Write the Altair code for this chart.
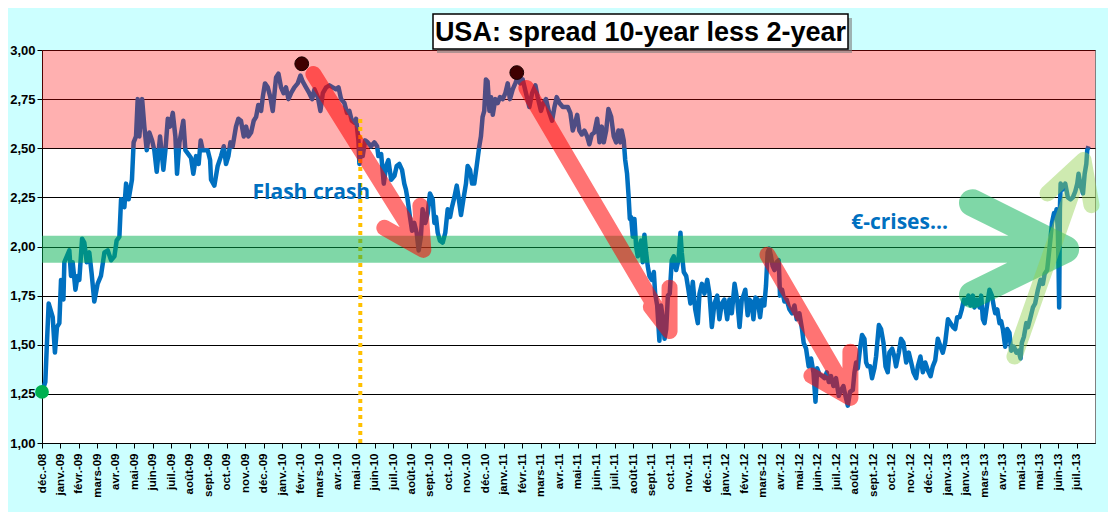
import altair as alt
import pandas as pd

# x position unit = one axis tick step (Excel date axis, ~1 month)
month_labels = [
    "déc.-08", "janv.-09", "févr.-09", "mars-09", "avr.-09", "mai-09", "juin-09",
    "juil.-09", "août-09", "sept.-09", "oct.-09", "nov.-09", "déc.-09", "janv.-10",
    "févr.-10", "mars-10", "avr.-10", "mai-10", "juin-10", "juil.-10", "août-10",
    "sept.-10", "oct.-10", "nov.-10", "déc.-10", "janv.-11", "févr.-11", "mars-11",
    "avr.-11", "mai-11", "juin-11", "juil.-11", "août-11", "sept.-11", "oct.-11",
    "nov.-11", "déc.-11", "janv.-12", "févr.-12", "mars-12", "avr.-12", "mai-12",
    "juin-12", "juil.-12", "août-12", "sept.-12", "oct.-12", "nov.-12", "déc.-12",
    "janv.-13", "janv.-13", "mars-13", "avr.-13", "mai-13", "mai-13", "juin-13",
    "juil.-13",
]
y_ticks = [1.0, 1.25, 1.5, 1.75, 2.0, 2.25, 2.5, 2.75, 3.0]

# spread 10y - 2y, (position, value)
spread_0809 = [
    (0.00, 1.26), (0.18, 1.31), (0.25, 1.47), (0.36, 1.71), (0.58, 1.64), (0.70, 1.46),
    (0.81, 1.59), (0.94, 1.61), (1.03, 1.83), (1.16, 1.73), (1.21, 1.92), (1.48, 1.98),
    (1.57, 1.85), (1.66, 1.92), (1.81, 1.78), (1.93, 1.85), (2.02, 1.83), (2.17, 2.04),
    (2.29, 2.02), (2.42, 1.92), (2.56, 1.97), (2.69, 1.86), (2.83, 1.72), (3.01, 1.81),
    (3.19, 1.85), (3.38, 1.97), (3.56, 1.98), (3.74, 1.93), (3.92, 1.95), (4.04, 2.03),
    (4.19, 2.05), (4.28, 2.24), (4.46, 2.20), (4.55, 2.32), (4.69, 2.24), (4.87, 2.34),
    (4.96, 2.53), (5.09, 2.56), (5.18, 2.75), (5.27, 2.56), (5.42, 2.75), (5.54, 2.61),
    (5.67, 2.49), (5.81, 2.58), (5.96, 2.54), (6.08, 2.49), (6.21, 2.38), (6.39, 2.56),
    (6.57, 2.39), (6.68, 2.49), (6.81, 2.65), (6.93, 2.61), (7.08, 2.68), (7.22, 2.56),
    (7.31, 2.37), (7.44, 2.53), (7.65, 2.64), (7.76, 2.49), (7.92, 2.47), (8.07, 2.45),
    (8.19, 2.37), (8.34, 2.46), (8.48, 2.42), (8.59, 2.54), (8.70, 2.49), (8.97, 2.49),
    (9.10, 2.44), (9.15, 2.34), (9.33, 2.31),
]
spread_0910 = [
    (9.51, 2.41), (9.69, 2.46), (9.84, 2.51), (9.96, 2.42), (10.09, 2.46), (10.20, 2.53),
    (10.32, 2.51), (10.50, 2.61), (10.63, 2.65), (10.77, 2.64), (10.92, 2.56), (11.05, 2.61),
    (11.17, 2.56), (11.32, 2.58), (11.46, 2.64), (11.59, 2.66), (11.71, 2.72), (11.86, 2.69),
    (11.95, 2.76), (12.07, 2.83), (12.22, 2.81), (12.36, 2.76), (12.49, 2.69), (12.67, 2.86),
    (12.80, 2.88), (12.94, 2.81), (13.08, 2.78), (13.21, 2.81), (13.34, 2.75), (13.48, 2.78),
    (13.66, 2.81), (13.84, 2.83), (13.99, 2.87), (14.11, 2.84), (14.29, 2.81), (14.47, 2.78),
    (14.62, 2.75), (14.75, 2.80), (14.93, 2.76), (15.07, 2.69), (15.20, 2.78), (15.38, 2.81),
    (15.56, 2.82), (15.74, 2.81), (15.92, 2.80), (16.05, 2.81), (16.19, 2.75), (16.37, 2.73),
    (16.51, 2.68), (16.64, 2.69), (16.77, 2.64), (16.91, 2.63), (17.00, 2.65), (17.13, 2.54),
    (17.18, 2.42), (17.27, 2.51), (17.36, 2.46), (17.49, 2.54), (17.63, 2.53), (17.81, 2.51),
    (17.99, 2.53), (18.14, 2.51), (18.21, 2.46), (18.36, 2.47), (18.50, 2.32), (18.63, 2.41),
    (18.75, 2.44), (18.90, 2.34), (19.08, 2.36),
]
spread_1011 = [
    (19.20, 2.41), (19.34, 2.42), (19.49, 2.39), (19.61, 2.32), (19.70, 2.29), (19.79, 2.24),
    (19.92, 2.15), (20.03, 2.08), (20.15, 2.12), (20.28, 2.07), (20.39, 1.98), (20.51, 2.05),
    (20.60, 2.19), (20.75, 2.12), (20.88, 2.17), (21.00, 2.27), (21.15, 2.24), (21.24, 2.12),
    (21.33, 2.15), (21.42, 2.07), (21.54, 2.03), (21.69, 2.02), (21.83, 2.07), (21.96, 2.19),
    (22.09, 2.15), (22.19, 2.20), (22.32, 2.25), (22.45, 2.31), (22.55, 2.25), (22.68, 2.16),
    (22.81, 2.24), (22.95, 2.32), (23.04, 2.41), (23.17, 2.39), (23.28, 2.32), (23.40, 2.32),
    (23.53, 2.41), (23.67, 2.51), (23.76, 2.56), (23.85, 2.66), (23.94, 2.69), (24.03, 2.85),
    (24.12, 2.84), (24.22, 2.69), (24.31, 2.76), (24.40, 2.67), (24.54, 2.75), (24.67, 2.73),
    (24.79, 2.76), (24.94, 2.75), (25.08, 2.78), (25.21, 2.83), (25.33, 2.75), (25.48, 2.80),
    (25.62, 2.83), (25.75, 2.86), (25.88, 2.83), (26.02, 2.85), (26.20, 2.78), (26.38, 2.71),
    (26.53, 2.78), (26.71, 2.82), (26.83, 2.76), (27.01, 2.69), (27.14, 2.73), (27.28, 2.75),
    (27.43, 2.69), (27.61, 2.64), (27.74, 2.71), (27.86, 2.76), (28.01, 2.73), (28.19, 2.71),
]
spread_1112 = [
    (28.46, 2.71), (28.60, 2.68), (28.73, 2.59), (28.86, 2.63), (28.97, 2.67), (29.09, 2.59),
    (29.22, 2.57), (29.36, 2.59), (29.51, 2.56), (29.63, 2.52), (29.76, 2.57), (29.90, 2.58),
    (30.05, 2.65), (30.18, 2.53), (30.30, 2.61), (30.41, 2.53), (30.54, 2.59), (30.66, 2.70),
    (30.81, 2.66), (30.95, 2.56), (31.08, 2.53), (31.20, 2.59), (31.31, 2.53), (31.38, 2.59),
    (31.49, 2.54), (31.57, 2.44), (31.67, 2.37), (31.75, 2.26), (31.82, 2.14), (31.89, 2.15),
    (31.98, 2.05), (32.07, 2.14), (32.16, 2.00), (32.25, 1.95), (32.34, 2.00), (32.43, 2.03),
    (32.52, 1.92), (32.61, 2.06), (32.70, 1.97), (32.79, 1.90), (32.88, 1.85), (33.01, 1.83),
    (33.12, 1.87), (33.19, 1.76), (33.30, 1.70), (33.42, 1.52), (33.51, 1.70), (33.60, 1.64),
    (33.70, 1.53), (33.79, 1.58), (33.88, 1.75), (33.98, 1.76), (34.09, 1.93), (34.20, 1.95),
    (34.33, 1.88), (34.45, 1.93), (34.56, 2.07), (34.63, 1.97), (34.74, 1.87), (34.87, 1.85),
    (34.99, 1.78), (35.10, 1.71), (35.23, 1.82), (35.36, 1.68), (35.50, 1.61), (35.59, 1.76),
    (35.72, 1.81), (35.86, 1.76), (36.01, 1.83), (36.13, 1.76), (36.26, 1.59), (36.40, 1.71),
    (36.55, 1.75), (36.67, 1.63), (36.80, 1.71), (36.94, 1.73), (37.09, 1.63), (37.21, 1.73),
    (37.34, 1.66), (37.49, 1.81), (37.63, 1.73), (37.76, 1.59), (37.88, 1.73),
]
spread_12 = [
    (37.97, 1.75), (38.07, 1.78), (38.20, 1.65), (38.29, 1.73), (38.40, 1.72), (38.51, 1.63),
    (38.62, 1.74), (38.74, 1.73), (38.87, 1.64), (38.98, 1.73), (39.10, 1.70), (39.19, 1.80),
    (39.28, 1.97), (39.37, 1.99), (39.46, 1.95), (39.55, 1.90), (39.65, 1.88), (39.77, 1.92),
    (39.88, 1.93), (39.95, 1.75), (40.06, 1.78), (40.19, 1.72), (40.31, 1.73), (40.46, 1.68),
    (40.60, 1.66), (40.73, 1.70), (40.85, 1.63), (41.00, 1.66), (41.14, 1.58), (41.23, 1.51),
    (41.36, 1.48), (41.50, 1.39), (41.63, 1.43), (41.76, 1.36), (41.87, 1.21), (41.96, 1.38),
    (42.08, 1.35), (42.23, 1.34), (42.35, 1.33), (42.48, 1.36), (42.59, 1.31), (42.71, 1.34),
    (42.84, 1.29), (42.98, 1.33), (43.13, 1.24), (43.26, 1.27), (43.38, 1.29), (43.49, 1.24),
    (43.62, 1.19), (43.74, 1.26), (43.89, 1.27), (43.98, 1.36), (44.07, 1.41), (44.16, 1.38),
    (44.28, 1.48), (44.39, 1.55), (44.52, 1.53), (44.61, 1.41), (44.70, 1.39), (44.83, 1.39),
    (44.93, 1.33), (45.06, 1.38), (45.15, 1.44), (45.30, 1.60), (45.42, 1.58), (45.55, 1.51),
    (45.66, 1.39), (45.78, 1.36), (45.87, 1.46), (46.02, 1.48), (46.14, 1.44), (46.23, 1.39),
    (46.38, 1.46), (46.50, 1.53), (46.63, 1.51), (46.78, 1.41), (46.92, 1.46), (47.05, 1.41),
    (47.17, 1.36), (47.32, 1.33),
]
spread_13 = [
    (47.41, 1.39), (47.55, 1.44), (47.68, 1.36), (47.81, 1.41), (47.95, 1.37), (48.10, 1.34),
    (48.22, 1.39), (48.35, 1.42), (48.49, 1.53), (48.64, 1.49), (48.76, 1.46), (48.89, 1.51),
    (49.04, 1.63), (49.18, 1.61), (49.31, 1.59), (49.43, 1.58), (49.54, 1.64), (49.67, 1.64),
    (49.79, 1.68), (49.90, 1.73), (50.03, 1.71), (50.15, 1.75), (50.26, 1.70), (50.39, 1.75),
    (50.48, 1.69), (50.62, 1.73), (50.75, 1.69), (50.84, 1.75), (50.93, 1.63), (51.02, 1.61),
    (51.17, 1.71), (51.29, 1.78), (51.42, 1.75), (51.53, 1.69), (51.60, 1.66), (51.71, 1.68),
    (51.83, 1.61), (51.92, 1.62), (52.01, 1.58), (52.14, 1.49), (52.25, 1.58), (52.37, 1.56),
    (52.46, 1.47), (52.61, 1.49), (52.74, 1.46), (52.86, 1.47), (52.97, 1.43), (53.04, 1.51),
    (53.15, 1.54), (53.28, 1.61), (53.37, 1.59), (53.51, 1.64), (53.64, 1.69), (53.76, 1.71),
    (53.91, 1.78), (54.05, 1.83), (54.18, 1.81), (54.27, 1.86), (54.41, 1.88), (54.49, 1.95),
    (54.60, 2.05), (54.67, 2.12), (54.78, 2.17), (54.85, 2.15), (54.92, 2.19), (54.99, 2.08),
    (55.03, 1.88), (55.06, 1.69), (55.10, 2.19), (55.14, 2.32), (55.26, 2.29), (55.39, 2.32),
    (55.53, 2.25), (55.68, 2.24), (55.80, 2.25), (55.93, 2.28), (56.04, 2.32), (56.11, 2.37),
    (56.22, 2.31), (56.35, 2.27), (56.44, 2.37), (56.53, 2.42), (56.58, 2.49), (56.65, 2.51),
]

# annotations (position, value)
red_zone = (2.5, 3.0)
flash_crash_pos = 17.23
flash_crash_range = (1.0, 2.66)
start_dot = [(0.0, 1.26)]
peak_dots = [(14.06, 2.93), (25.70, 2.885)]
crash_arrow = [(14.69, 2.878), (20.64, 1.983), (18.53, 2.095), (20.64, 1.983), (20.48, 2.207)]
fall_2011_arrow = [(26.22, 2.807), (33.97, 1.57), (32.96, 1.693), (33.97, 1.57), (33.97, 1.79)]
fall_2012_arrow = [(39.27, 1.958), (43.76, 1.23), (41.65, 1.343), (43.76, 1.23), (43.76, 1.465)]
rise_2013_arrow = [(52.64, 1.44), (56.38, 2.44), (54.43, 2.27), (56.38, 2.44), (56.81, 2.21)]
euro_arrow = [(-1.0, 1.986), (55.41, 1.986), (50.37, 2.222), (55.41, 1.986), (50.37, 1.754)]
notes = [(14.58, 2.243, "Flash crash"), (46.42, 2.09, "€-crises...")]
title = "USA: spread 10-year less 2-year"

W, H = 1053, 393
AXIS_FONT = "Liberation Sans"


def path_df(name, pts):
    df = pd.DataFrame(pts, columns=["t", "v"])
    df["arrow"] = name
    df["i"] = range(len(df))
    return df


series = pd.DataFrame(
    spread_0809 + spread_0910 + spread_1011 + spread_1112 + spread_12 + spread_13,
    columns=["t", "v"],
)

labels_js = "[" + ",".join(f"'{m}'" for m in month_labels) + "]"
x_axis = alt.Axis(
    values=list(range(len(month_labels))),
    labelExpr=f"{labels_js}[datum.value]",
    labelAngle=-90,
    labelAlign="right",
    labelBaseline="middle",
    labelFont=AXIS_FONT,
    labelFontSize=11.5,
    labelFontWeight="bold",
    labelColor="black",
    labelPadding=5,
    labelFlush=False,
    labelOverlap=False,
    tickSize=5,
    tickColor="black",
    domainColor="black",
    grid=False,
    title=None,
)
y_axis = alt.Axis(
    values=y_ticks,
    labelExpr="replace(format(datum.value, '.2f'), '.', ',')",
    labelFont=AXIS_FONT,
    labelFontSize=13,
    labelFontWeight="bold",
    labelColor="black",
    labelPadding=2,
    tickSize=5,
    tickColor="black",
    domainColor="black",
    gridColor="black",
    gridOpacity=1,
    gridWidth=1,
    title=None,
)
x_scale = alt.Scale(domain=[0, 57], nice=False, zero=False)
y_scale = alt.Scale(domain=[1, 3], nice=False, zero=False)


def X(field="t"):
    return alt.X(f"{field}:Q", scale=x_scale, axis=x_axis)


def Y(field="v"):
    return alt.Y(f"{field}:Q", scale=y_scale, axis=y_axis)


line = alt.Chart(series).mark_line(
    color="#0070C0", strokeWidth=4.5, strokeJoin="round"
).encode(x=X(), y=Y())

red_band = alt.Chart(
    pd.DataFrame({"t": [0], "t2": [57], "v": [red_zone[0]], "v2": [red_zone[1]]})
).mark_rect(color="#FF0000", opacity=0.31).encode(x=X(), x2="t2", y=Y(), y2="v2")

crash_rule = alt.Chart(
    pd.DataFrame({"t": [flash_crash_pos], "v": [flash_crash_range[0]], "v2": [flash_crash_range[1]]})
).mark_rule(color="#FFC000", strokeWidth=4, strokeDash=[4, 4]).encode(x=X(), y=Y(), y2="v2")

green_arrow = alt.Chart(path_df("euro", euro_arrow)).mark_line(
    color="#00B050", opacity=0.5, strokeWidth=27, strokeCap="round", strokeJoin="round", clip=True
).encode(x=X(), y=Y(), order="i:Q")

red_paths = pd.concat([
    path_df("crash", crash_arrow),
    path_df("fall11", fall_2011_arrow),
    path_df("fall12", fall_2012_arrow),
])
red_arrows = alt.Chart(red_paths).mark_line(
    color="#FF0000", opacity=0.55, strokeWidth=16, strokeCap="round", strokeJoin="round"
).encode(x=X(), y=Y(), detail="arrow:N", order="i:Q")

rise_arrow = alt.Chart(path_df("rise13", rise_2013_arrow)).mark_line(
    color="#92D050", opacity=0.45, strokeWidth=16, strokeCap="round", strokeJoin="round"
).encode(x=X(), y=Y(), order="i:Q")

green_dot = alt.Chart(pd.DataFrame(start_dot, columns=["t", "v"])).mark_circle(
    color="#00B050", size=190, opacity=1
).encode(x=X(), y=Y())

peak_dot = alt.Chart(pd.DataFrame(peak_dots, columns=["t", "v"])).mark_point(
    filled=True, fill="#3F0000", stroke="#1A0000", strokeWidth=1, size=190, opacity=1, shape="circle"
).encode(x=X(), y=Y())

note_text = alt.Chart(pd.DataFrame(notes, columns=["t", "v", "label"])).mark_text(
    font="Open Sans", fontSize=21, fontWeight="bold", color="#0070C0",
    align="center", baseline="alphabetic",
).encode(x=X(), y=Y(), text="label:N")

title_df = pd.DataFrame({"label": [title]})
title_shadow = alt.Chart(title_df).mark_rect(color="#7F7F7F", opacity=0.6).encode(
    x=alt.value(395), x2=alt.value(810), y=alt.value(-32), y2=alt.value(3)
)
title_box = alt.Chart(title_df).mark_rect(fill="white", stroke="black", strokeWidth=1.5).encode(
    x=alt.value(391), x2=alt.value(806), y=alt.value(-36), y2=alt.value(-1)
)
title_text = alt.Chart(title_df).mark_text(
    font=AXIS_FONT, fontSize=27, fontWeight="bold", color="black",
    align="center", baseline="alphabetic",
).encode(x=alt.value(598.5), y=alt.value(-9), text="label:N")

chart = (
    alt.layer(
        line, red_band, crash_rule, green_arrow, red_arrows, rise_arrow,
        green_dot, peak_dot, note_text, title_shadow, title_box, title_text,
    )
    .properties(
        width=W,
        height=H,
        background="#CCFFFF",
        autosize="none",
        padding={"left": 34, "top": 42, "right": 13, "bottom": 69},
    )
    .configure_view(fill="white", stroke="#808080", strokeWidth=1)
)

chart.save("out.html", embed_options={"renderer": "svg", "actions": False})
